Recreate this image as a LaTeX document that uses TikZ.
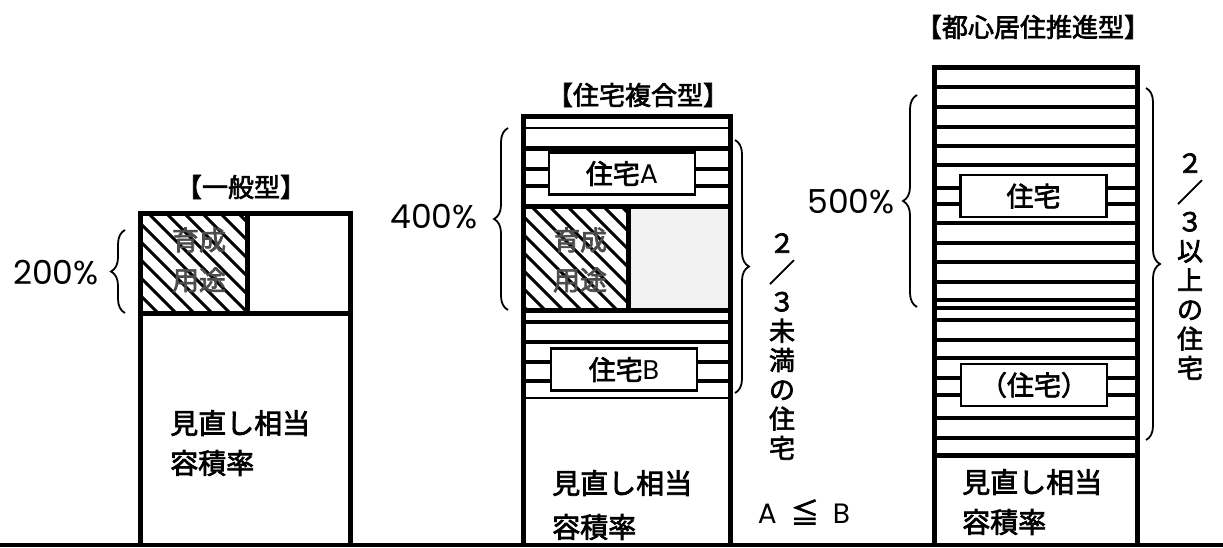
\documentclass[tikz,border=0pt]{standalone}
\usepackage{fontspec}
\setmainfont{Noto Sans CJK JP}[FakeBold=2.5]
\newfontfamily\latinfont{Poppins}
\usetikzlibrary{decorations.pathreplacing}

\begin{document}
\begin{tikzpicture}[x=1pt,y=1pt,
  wall/.style={line width=5pt,line join=miter},
  floor/.style={line width=4pt},
  thinfloor/.style={line width=2.6pt},
  unit/.style={draw,line width=2.6pt,fill=white,minimum width=146pt,minimum height=42pt,inner sep=0pt,font=\fontsize{27}{27}\selectfont},
  curly/.style={decorate,decoration={brace,amplitude=14pt},line width=1.8pt},
  txt/.style={inner sep=0pt,font=\fontsize{28}{28}\selectfont},
  ttl/.style={inner sep=0pt,font=\fontsize{26}{26}\selectfont},
  pct/.style={inner sep=0pt,font=\fontsize{33}{33}\latinfont},
  vert/.style={inner sep=0pt,align=center,font=\fontsize{26}{29.3}\selectfont},
  usetxt/.style={inner sep=0pt,text=black!70,font=\fontsize{27}{27}\selectfont},
]
\useasboundingbox (0,-547) rectangle (1223,0);

% --- general type
\begin{scope}
\clip (140,-213) rectangle (247,-313);
\foreach \d in {-100,-82,...,110} \draw[line width=3pt] (140+\d,-213) -- ++(110,-110);
\end{scope}
\draw[wall] (140,-313) -- (350,-313);
\draw[wall] (247,-213) -- (247,-313);
\draw[wall] (140,-547) -- (140,-213) -- (350,-213) -- (350,-547);
\node[usetxt] (useA1) at (199,-240) {育成};
\node[usetxt] (useA2) at (199,-280) {用途};
\node[ttl] (titleA) at (241,-187) {【一般型】};
\node[txt,anchor=west] (baseA1) at (170,-423) {見直し相当};
\node[txt,anchor=west] (baseA2) at (170,-463) {容積率};
\node[pct] (pctA) at (56,-273) {200\%};
\draw[curly] (125,-313) -- (125,-230);

% --- mixed housing type
\fill[black!5] (628,-206) rectangle (730,-310);
\begin{scope}
\clip (523,-206) rectangle (628,-310);
\foreach \d in {-100,-82,...,110} \draw[line width=3pt] (523+\d,-206) -- ++(110,-110);
\end{scope}
\draw[thinfloor] (523,-128) -- (730,-128);
\foreach \y in {148,206,310} \draw[wall] (523,-\y) -- (730,-\y);
\foreach \y in {169,186,322,342,362,381} \draw[floor] (523,-\y) -- (730,-\y);
\draw[line width=2pt] (523,-398) -- (730,-398);
\draw[wall] (628,-206) -- (628,-310);
\node[unit] (unitA) at (622,-173.5) {住宅{\latinfont A}};
\node[unit] (unitB) at (624,-369.5) {住宅{\latinfont B}};
\draw[wall] (523,-547) -- (523,-116) -- (730,-116) -- (730,-547);
\node[usetxt] (useB1) at (580,-240) {育成};
\node[usetxt] (useB2) at (580,-280) {用途};
\node[ttl] (titleB) at (638,-95) {【住宅複合型】};
\node[txt,anchor=west] (baseB1) at (552,-483) {見直し相当};
\node[txt,anchor=west] (baseB2) at (552,-527) {容積率};
\node[pct] (pctB) at (434,-217) {400\%};
\draw[curly] (508,-310) -- (508,-128);
\draw[curly] (735,-140) -- (735,-393);
\node[vert] (shareB) at (782,-346.5) {２\\／\\３\\未\\満\\の\\住\\宅};
\node[txt] (cmp) at (804,-512) {{\latinfont A}\hspace{14pt}≦\hspace{14pt}{\latinfont B}};

% --- central residence type
\foreach \y in {87,107,127,146,165,188,204,223,243,262,282,300,308,320,340,358,378,395,418,438}
  \draw[floor] (934,-\y) -- (1137,-\y);
\draw[wall] (934,-455) -- (1137,-455);
\node[unit] (unitC) at (1033.5,-196) {住宅};
\node[unit] (unitD) at (1034,-385) {（住宅）};
\draw[wall] (934,-547) -- (934,-67) -- (1137,-67) -- (1137,-547);
\node[ttl] (titleC) at (1033,-27) {【都心居住推進型】};
\node[txt,anchor=west] (baseC1) at (962,-482) {見直し相当};
\node[txt,anchor=west] (baseC2) at (962,-522) {容積率};
\node[pct] (pctC) at (851,-202) {500\%};
\draw[curly] (917,-307) -- (917,-95);
\draw[curly] (1146,-88) -- (1146,-440);
\node[vert] (shareC) at (1190,-266.5) {２\\／\\３\\以\\上\\の\\住\\宅};

% ground
\draw[line width=4pt] (0,-545) -- (1223,-545);

\end{tikzpicture}
\end{document}
